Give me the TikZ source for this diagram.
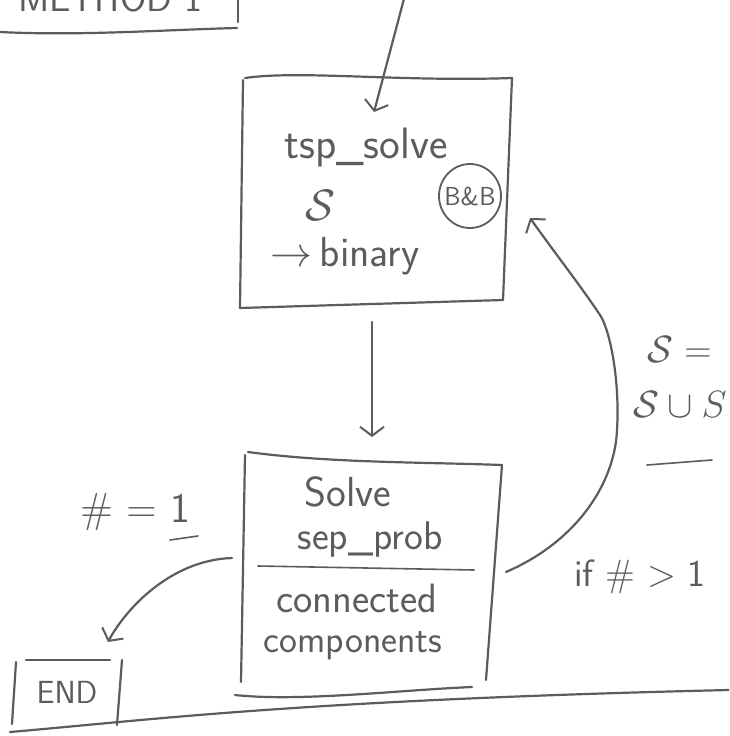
\documentclass[tikz,border=0pt]{standalone}
\usepackage{fix-cm}
\usepackage{amsmath}
\usepackage{amssymb}
\usepackage{fontspec}
\usepackage{tikz}
\usetikzlibrary{arrows.meta}
\definecolor{pen}{HTML}{5C5C5C}
\tikzset{
  ink/.style={draw=pen, line width=2.2pt, line cap=round, line join=round},
  hand/.style={text=pen, font=\sffamily\fontsize{38}{42}\selectfont, inner sep=0pt},
  tip/.style={-{Straight Barb[length=9pt,width=24pt,line width=2pt]}}
}
\begin{document}
\begin{tikzpicture}[x=1pt,y=-1pt]
\useasboundingbox (0,0) rectangle (729,736);
\fill[white] (0,0) rectangle (729,736);
\clip (0,0) rectangle (729,736);
% method box, cut at the top
\node [hand] (meth) at (110,-2) {METHOD 1};
\draw [ink] (0,32) .. controls (80,36) and (160,30) .. (237,28);
\draw [ink] (238,-5) -- (238,22);
% entry arrow
\coordinate (top) at (405,-5);
\coordinate (in1) at (374,112);
\draw [ink,tip] (top) -- (in1);
% tsp box
\draw [ink] (245,78) .. controls (300,70) and (400,82) .. (512,78);
\draw [ink] (243,80) -- (240,308);
\draw [ink] (512,78) -- (503,300);
\draw [ink] (240,308) -- (503,300);
\node [hand,font=\sffamily\fontsize{44}{48}\selectfont] (tsp) at (366,148) {tsp\_solve};
\node [hand,font=\sffamily\fontsize{44}{48}\selectfont] (sset) at (320,205) {$\mathcal{S}$};
\node [hand,font=\sffamily\fontsize{26}{30}\selectfont] (bb) at (470,196) {B\&B};
\draw [ink,line width=1.8pt] (bb) ellipse (31pt and 32pt);
\node [hand,font=\sffamily\fontsize{42}{46}\selectfont] (bin) at (345,256) {$\rightarrow$\,binary};
% down arrow
\coordinate (out1) at (372,322);
\coordinate (in2) at (372,437);
\draw [ink,tip] (out1) -- (in2);
% separation box
\draw [ink] (248,452) .. controls (330,463) and (420,462) .. (502,465);
\draw [ink] (245,455) -- (241,682);
\draw [ink] (502,465) -- (486,680);
\draw [ink] (235,695) .. controls (300,702) and (400,690) .. (472,687);
\draw [ink,line width=1.6pt] (258,566) -- (474,570);
\node [hand,font=\sffamily\fontsize{42}{46}\selectfont] (solve) at (348,492) {Solve};
\node [hand,font=\sffamily\fontsize{40}{44}\selectfont] (sep) at (370,540) {sep\_prob};
\node [hand,font=\sffamily\fontsize{41}{45}\selectfont] (conn) at (357,598) {connected};
\node [hand] (comp) at (353,646) {components};
% to the end
\coordinate (l2) at (232,558);
\node [hand,font=\sffamily\fontsize{32}{36}\selectfont] (end) at (67,692) {END};
\draw [ink] (16,662) -- (12,724);
\draw [ink] (26,660) -- (110,660);
\draw [ink] (122,660) -- (117,725);
\draw [ink,tip] (l2) .. controls (170,560) and (125,610) .. (108,642);
\node [hand,font=\sffamily\fontsize{42}{46}\selectfont] (eq1) at (135,512) {\# = 1};
\draw [ink,line width=1.6pt] (170,540) -- (198,536);
% back to the tsp box
\coordinate (r2) at (506,572);
\coordinate (r1) at (530,218);
\draw [ink,tip] (r2) .. controls (580,540) and (615,480) .. (617,430)
  .. controls (620,380) and (610,330) .. (600,315)
  .. controls (580,285) and (560,260) .. (r1);
\node [hand] (gt1) at (640,577) {if \# $>$ 1};
\node [hand] (snew) at (680,350) {$\mathcal{S}$ =};
\node [hand] (sunion) at (680,405) {$\mathcal{S}\cup S$};
\draw [ink,line width=1.6pt] (647,465) -- (712,460);
% bottom line
\draw [ink] (10,732) .. controls (150,720) and (300,700) .. (729,690);
\end{tikzpicture}
\end{document}
